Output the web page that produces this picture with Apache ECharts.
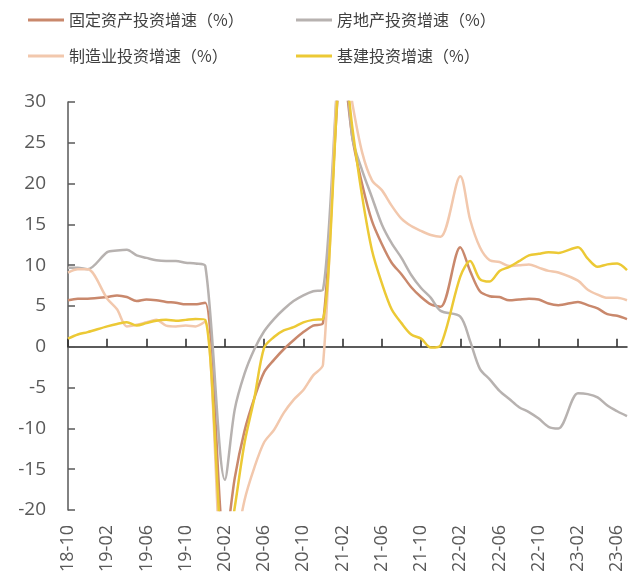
<!DOCTYPE html>
<html>
<head>
<meta charset="utf-8">
<script src="https://cdn.jsdelivr.net/npm/echarts@6/dist/echarts.min.js"></script>
<style>
  html, body { margin: 0; padding: 0; background: #ffffff; }
  #chart { width: 628px; height: 583px; }
</style>
</head>
<body>
<div id="chart"></div>
<script>
// Monthly categories (January has no separate release; Jan-Feb is reported as Feb)
const months = [
  '18-10','18-11','18-12',
  '19-01','19-02','19-03','19-04','19-05','19-06','19-07','19-08','19-09','19-10','19-11','19-12',
  '20-01','20-02','20-03','20-04','20-05','20-06','20-07','20-08','20-09','20-10','20-11','20-12',
  '21-01','21-02','21-03','21-04','21-05','21-06','21-07','21-08','21-09','21-10','21-11','21-12',
  '22-01','22-02','22-03','22-04','22-05','22-06','22-07','22-08','22-09','22-10','22-11','22-12',
  '23-01','23-02','23-03','23-04','23-05','23-06','23-07'
];

// Cumulative YoY growth, %
const fixedAsset = [
  5.7, 5.9, 5.9,
  null, 6.1, 6.3, 6.1, 5.6, 5.8, 5.7, 5.5, 5.4, 5.2, 5.2, 5.4,
  null, -24.5, -16.1, -10.3, -6.3, -3.1, -1.6, -0.3, 0.8, 1.8, 2.6, 2.9,
  null, 35.0, 25.6, 19.9, 15.4, 12.6, 10.3, 8.9, 7.3, 6.1, 5.2, 4.9,
  null, 12.2, 9.3, 6.8, 6.2, 6.1, 5.7, 5.8, 5.9, 5.8, 5.3, 5.1,
  null, 5.5, 5.1, 4.7, 4.0, 3.8, 3.4
];
const realEstate = [
  9.7, 9.7, 9.5,
  null, 11.6, 11.8, 11.9, 11.2, 10.9, 10.6, 10.5, 10.5, 10.3, 10.2, 9.9,
  null, -16.3, -7.7, -3.3, -0.3, 1.9, 3.4, 4.6, 5.6, 6.3, 6.8, 7.0,
  null, 38.3, 25.6, 21.6, 18.3, 15.0, 12.7, 10.9, 8.8, 7.2, 6.0, 4.4,
  null, 3.7, 0.7, -2.7, -4.0, -5.4, -6.4, -7.4, -8.0, -8.8, -9.8, -10.0,
  null, -5.7, -5.8, -6.2, -7.2, -7.9, -8.5
];
const manufacturing = [
  9.1, 9.5, 9.5,
  null, 5.9, 4.6, 2.5, 2.7, 3.0, 3.3, 2.6, 2.5, 2.6, 2.5, 3.1,
  null, -31.5, -25.2, -18.8, -14.8, -11.7, -10.2, -8.1, -6.5, -5.3, -3.5, -2.2,
  null, 37.3, 29.8, 23.8, 20.4, 19.2, 17.3, 15.7, 14.8, 14.2, 13.7, 13.5,
  null, 20.9, 15.6, 12.2, 10.6, 10.4, 9.9, 10.0, 10.1, 9.7, 9.3, 9.1,
  null, 8.1, 7.0, 6.4, 6.0, 6.0, 5.7
];
const infrastructure = [
  1.0, 1.5, 1.8,
  null, 2.5, 2.8, 3.0, 2.6, 2.9, 3.2, 3.3, 3.2, 3.3, 3.4, 3.3,
  null, -26.9, -19.7, -11.8, -6.3, -0.1, 1.2, 2.0, 2.4, 3.0, 3.3, 3.4,
  null, 36.6, 26.8, 18.4, 11.8, 7.8, 4.6, 2.9, 1.5, 1.0, -0.1, 0.2,
  null, 8.6, 10.5, 8.3, 8.0, 9.3, 9.8, 10.5, 11.2, 11.4, 11.6, 11.5,
  null, 12.2, 10.8, 9.8, 10.1, 10.2, 9.4
];

const seriesNames = ['固定资产投资增速（%）', '房地产投资增速（%）', '制造业投资增速（%）', '基建投资增速（%）'];
const seriesColors = ['#c9886c', '#b7b2b0', '#f2c8ad', '#ecc935'];
const seriesData = [fixedAsset, realEstate, manufacturing, infrastructure];

const cjkFont = '"Noto Sans CJK SC", "Noto Sans", sans-serif';
const numFont = '"Open Sans", "Noto Sans", sans-serif';

const legendPos = [
  { left: 28, top: 12 },
  { left: 296, top: 12 },
  { left: 28, top: 48 },
  { left: 296, top: 48 }
];

const chart = echarts.init(document.getElementById('chart'), null, { renderer: 'canvas' });

chart.setOption({
  backgroundColor: '#ffffff',
  animation: false,
  legend: seriesNames.map((name, i) => ({
    data: [name],
    left: legendPos[i].left,
    top: legendPos[i].top,
    icon: 'rect',
    itemWidth: 36,
    itemHeight: 3,
    padding: 0,
    textStyle: { fontFamily: cjkFont, fontSize: 16, color: '#404040' }
  })),
  grid: { left: 68, right: 1, top: 102, bottom: 73, containLabel: false },
  xAxis: [
    {
      // bottom labels
      type: 'category',
      data: months,
      boundaryGap: false,
      position: 'bottom',
      axisLine: { show: false, onZero: false },
      axisTick: { show: false },
      axisLabel: {
        interval: 3,
        rotate: 90,
        margin: 15,
        fontFamily: numFont,
        fontSize: 18,
        color: '#595959'
      },
      splitLine: { show: false }
    },
    {
      // zero line with upward ticks
      type: 'category',
      data: months,
      boundaryGap: false,
      position: 'bottom',
      axisLine: { show: true, onZero: true, lineStyle: { color: '#262626', width: 1.5 } },
      axisTick: { show: true, inside: true, interval: 3, length: 8, lineStyle: { color: '#262626', width: 1.5 } },
      axisLabel: { show: false },
      splitLine: { show: false }
    }
  ],
  yAxis: {
    type: 'value',
    min: -20,
    max: 30,
    interval: 5,
    axisLine: { show: true, lineStyle: { color: '#595959', width: 1.5 } },
    axisTick: { show: true, inside: true, length: 7, lineStyle: { color: '#595959', width: 1.5 } },
    axisLabel: { margin: 22, fontFamily: numFont, fontSize: 19, color: '#595959' },
    splitLine: { show: false }
  },
  series: seriesNames.map((name, i) => ({
    name: name,
    type: 'line',
    xAxisIndex: 0,
    data: seriesData[i],
    connectNulls: true,
    showSymbol: false,
    symbol: 'none',
    clip: true,
    smooth: 0.3,
    color: seriesColors[i],
    lineStyle: { color: seriesColors[i], width: 2.5 },
    z: 2 + i
  }))
});
</script>
</body>
</html>
